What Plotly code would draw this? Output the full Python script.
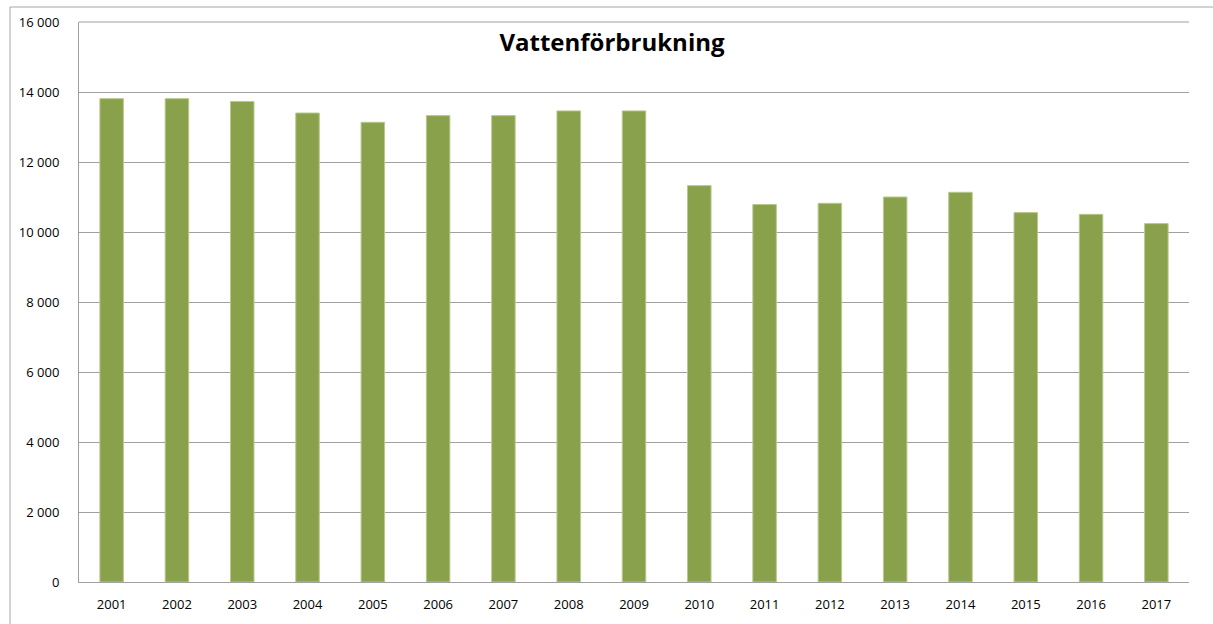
import plotly.graph_objects as go

years = ["2001", "2002", "2003", "2004", "2005", "2006", "2007", "2008", "2009",
         "2010", "2011", "2012", "2013", "2014", "2015", "2016", "2017"]
consumption = [13810, 13810, 13730, 13400, 13135, 13325, 13325, 13460, 13460,
               11325, 10785, 10820, 11000, 11135, 10555, 10505, 10240]
y_ticks = [0, 2000, 4000, 6000, 8000, 10000, 12000, 14000, 16000]

W, H = 1213, 624
ml, mr, mt, mb = 79, 24, 22, 42
pw, ph = W - ml - mr, H - mt - mb
FONT = "Open Sans, Liberation Sans, sans-serif"

fig = go.Figure(go.Bar(
    x=years, y=consumption,
    marker=dict(color="#8AA14C", line=dict(color="#B9C98E", width=1)),
))

fig.update_layout(
    width=W, height=H,
    margin=dict(l=ml, r=mr, t=mt, b=mb),
    paper_bgcolor="white", plot_bgcolor="white",
    font=dict(family=FONT, size=13, color="#000"),
    separators=", ",
    bargap=0.64,
    showlegend=False,
    title=dict(text="<b>Vattenförbrukning</b>", x=612 / W, xanchor="center",
               y=1 - 43 / H, yanchor="middle",
               font=dict(size=24, color="#000", family=FONT)),
    xaxis=dict(showgrid=False, showline=True, linecolor="#A0A0A0", linewidth=1,
               ticks="", ticklabelstandoff=10, tickfont=dict(size=13)),
    yaxis=dict(range=[0, 16000], tickvals=y_ticks, tickformat=",d",
               showgrid=True, gridcolor="#A0A0A0", gridwidth=1,
               showline=True, linecolor="#A0A0A0", linewidth=1,
               zeroline=False, ticks="", ticklabelstandoff=16, tickfont=dict(size=13)),
    shapes=[
        dict(type="rect", xref="paper", yref="paper",
             x0=(10 - ml) / pw, x1=(W + 5 - ml) / pw,
             y0=-0.2, y1=1 + (mt - 7) / ph,
             line=dict(color="#A6A6A6", width=1), layer="below"),
        dict(type="line", xref="paper", yref="paper", x0=0, x1=1, y0=1, y1=1,
             line=dict(color="#A0A0A0", width=1), layer="above"),
    ],
)

fig.write_html("out.html", config={"displayModeBar": False},
               post_script="document.body.style.margin='0';document.body.style.padding='0';")
